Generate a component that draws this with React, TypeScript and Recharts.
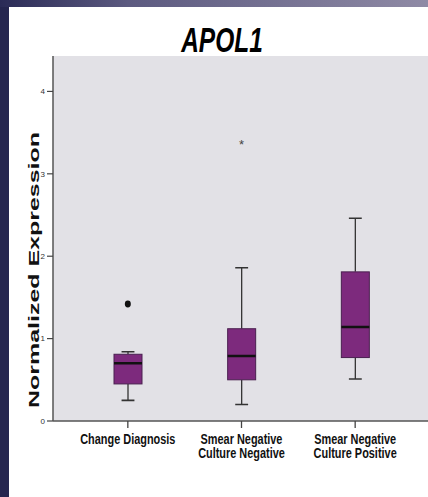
import React from 'react';
import { ComposedChart, Bar, Scatter, XAxis, YAxis, CartesianGrid } from 'recharts';

const categories = ['Change Diagnosis', 'Smear Negative\nCulture Negative', 'Smear Negative\nCulture Positive'];
const whiskerLow = [0.25, 0.2, 0.51];
const quartile1 = [0.45, 0.5, 0.77];
const medians = [0.7, 0.79, 1.14];
const quartile3 = [0.81, 1.12, 1.81];
const whiskerHigh = [0.84, 1.86, 2.46];
const outlierValue = [1.42, 3.37, null];
const outlierKind = ['circle', 'star', null];
const yTicks = [0, 1, 2, 3, 4];
const yMax = 4.43;

const data = categories.map((name, i) => ({
  name,
  range: [whiskerLow[i], whiskerHigh[i]],
  low: whiskerLow[i],
  q1: quartile1[i],
  median: medians[i],
  q3: quartile3[i],
  high: whiskerHigh[i],
  outlier: outlierValue[i],
  kind: outlierKind[i],
}));

const BOX_FILL = '#7d2a7d';
const BOX_STROKE = '#4a2050';
const LINE = '#333';

const BoxShape = (props: any) => {
  const { x, y, width, height, payload } = props;
  if (x == null || y == null) return null;
  const top = Math.min(y, y + height);
  const h = Math.abs(height);
  const span = payload.high - payload.low;
  const ppu = span > 0 ? h / span : 0;
  const yOf = (v: number) => top + (payload.high - v) * ppu;
  const cx = x + width / 2;
  const capHalf = width * 0.23;
  return (
    <g>
      <line x1={cx} x2={cx} y1={yOf(payload.high)} y2={yOf(payload.q3)} stroke={LINE} strokeWidth={1.3} />
      <line x1={cx} x2={cx} y1={yOf(payload.q1)} y2={yOf(payload.low)} stroke={LINE} strokeWidth={1.3} />
      <line x1={cx - capHalf} x2={cx + capHalf} y1={yOf(payload.high)} y2={yOf(payload.high)} stroke={LINE} strokeWidth={1.6} />
      <line x1={cx - capHalf} x2={cx + capHalf} y1={yOf(payload.low)} y2={yOf(payload.low)} stroke={LINE} strokeWidth={1.6} />
      <rect x={x} y={yOf(payload.q3)} width={width} height={yOf(payload.q1) - yOf(payload.q3)} fill={BOX_FILL} stroke={BOX_STROKE} strokeWidth={1} />
      <line x1={x} x2={x + width} y1={yOf(payload.median)} y2={yOf(payload.median)} stroke="#111" strokeWidth={2.5} />
    </g>
  );
};

const OutlierShape = (props: any) => {
  const { cx, cy, payload } = props;
  if (cx == null || cy == null || payload == null || payload.outlier == null) return null;
  if (payload.kind === 'circle') {
    return <ellipse cx={cx} cy={cy} rx={3} ry={3.4} fill="#111" />;
  }
  return (
    <text x={cx} y={cy + 6} textAnchor="middle" fontSize={13} fill="#444" fontFamily="Liberation Sans, Arial, sans-serif">*</text>
  );
};

const XTick = (props: any) => {
  const { x, y, payload } = props;
  const lines = String(payload.value).split('\n');
  return (
    <g transform={`translate(${x},${y})`}>
      {lines.map((l, i) => (
        <text
          key={i}
          transform={`translate(0,${14 + i * 14}) scale(0.78,1)`}
          textAnchor="middle"
          fontSize={14}
          fontWeight="bold"
          fill="#111"
          fontFamily="Liberation Sans, Arial, sans-serif"
        >
          {l}
        </text>
      ))}
    </g>
  );
};

export default function App() {
  return (
    <div style={{ position: 'fixed', left: 0, top: 0, width: 428, height: 497, background: '#25264f', overflow: 'hidden' }}>
      <div style={{ position: 'absolute', left: 0, top: 0, width: 428, height: 7, background: 'linear-gradient(to right, #2a2b56, #5c5a80 30%, #8f8aa5)' }} />
      <div style={{ position: 'absolute', left: 9, top: 7, right: 0, bottom: 0, background: '#fff' }} />
      <div style={{ position: 'absolute', left: 0, top: 0 }}>
        <ComposedChart width={432} height={497} data={data} margin={{ top: 56, right: 2, bottom: 36, left: 3 }}>
          <CartesianGrid horizontal={false} vertical={false} fill="#e2e1e6" />
          <XAxis
            dataKey="name"
            type="category"
            padding={{ left: 18, right: 18 }}
            height={40}
            tick={<XTick />}
            tickSize={7}
            axisLine={{ stroke: '#555', strokeWidth: 1.5 }}
            tickLine={{ stroke: '#444', strokeWidth: 1.3 }}
            interval={0}
          />
          <XAxis xAxisId="top" orientation="top" dataKey="name" height={0} tick={false} tickLine={false} axisLine={{ stroke: '#777', strokeWidth: 1.3 }} />
          <YAxis
            width={50}
            domain={[0, yMax]}
            ticks={yTicks}
            allowDataOverflow
            tickSize={6}
            tickMargin={2}
            tick={{ fontSize: 8, fill: '#333', fontFamily: 'Liberation Sans, Arial, sans-serif' }}
            axisLine={{ stroke: '#555', strokeWidth: 1.5 }}
            tickLine={{ stroke: '#444', strokeWidth: 1.2 }}
          />
          <Bar dataKey="range" barSize={28} shape={<BoxShape />} isAnimationActive={false} />
          <Scatter dataKey="outlier" shape={<OutlierShape />} isAnimationActive={false} />
        </ComposedChart>
      </div>
      <svg width={428} height={497} style={{ position: 'absolute', left: 0, top: 0, pointerEvents: 'none' }}>
        <text
          transform="translate(222,52) scale(0.7,1)"
          textAnchor="middle"
          fontSize={35}
          fontWeight="bold"
          fontStyle="italic"
          fill="#000"
          fontFamily="Liberation Sans, Arial, sans-serif"
        >
          APOL1
        </text>
        <text
          x={39}
          y={270}
          transform="rotate(-90,39,270)"
          textAnchor="middle"
          fontSize={14}
          fontWeight="bold"
          fill="#111"
          textLength={276}
          lengthAdjust="spacingAndGlyphs"
          fontFamily="Liberation Sans, Arial, sans-serif"
        >
          Normalized Expression
        </text>
      </svg>
    </div>
  );
}
